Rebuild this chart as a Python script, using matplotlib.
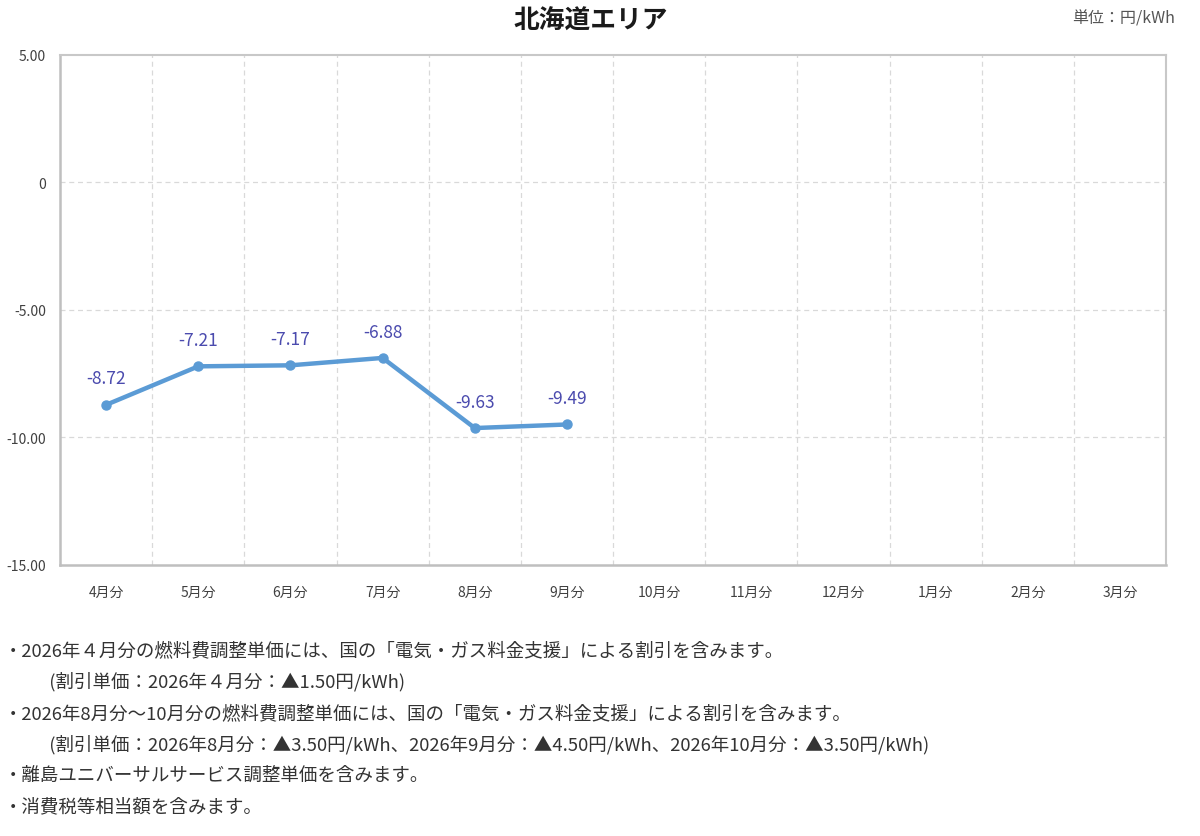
import matplotlib
matplotlib.use("Agg")
import matplotlib.pyplot as plt

plt.rcParams['font.family'] = ['Noto Sans CJK JP', 'DejaVu Sans']

months = ['4月分', '5月分', '6月分', '7月分', '8月分', '9月分',
          '10月分', '11月分', '12月分', '1月分', '2月分', '3月分']
values = [-8.72, -7.21, -7.17, -6.88, -9.63, -9.49]
yticks = [5, 0, -5, -10, -15]
ytick_labels = ['5.00', '0', '-5.00', '-10.00', '-15.00']

title = '北海道エリア'
unit = '単位：円/kWh'
notes = [
    '・2026年４月分の燃料費調整単価には、国の「電気・ガス料金支援」による割引を含みます。',
    '　　  (割引単価：2026年４月分：▲1.50円/kWh)',
    '・2026年8月分～10月分の燃料費調整単価には、国の「電気・ガス料金支援」による割引を含みます。',
    '　　  (割引単価：2026年8月分：▲3.50円/kWh、2026年9月分：▲4.50円/kWh、2026年10月分：▲3.50円/kWh)',
    '・離島ユニバーサルサービス調整単価を含みます。',
    '・消費税等相当額を含みます。',
]

fig = plt.figure(figsize=(12, 8.37), dpi=100)
ax = fig.add_axes([0.05, 0.3238, 0.9217, 0.6093])

x = list(range(len(values)))
ax.plot(x, values, color='#5B9BD5', lw=3.2, marker='o', ms=6.5, zorder=3)
for xi, v in zip(x, values):
    ax.annotate(f'{v:.2f}', (xi, v), xytext=(0, 19), textcoords='offset points',
                ha='center', va='center', fontsize=12.5, color='#4B4BAE')

ax.set_xlim(-0.5, len(months) - 0.5)
ax.set_ylim(-15, 5)
ax.set_xticks(range(len(months)))
ax.set_xticklabels(months, fontsize=10, color='#404040')
ax.set_yticks(yticks)
ax.set_yticklabels(ytick_labels, fontsize=10, color='#404040')
ax.tick_params(length=0, pad=14)
ax.tick_params(axis='y', pad=10)

# dashed grid: horizontal at ticks, vertical at category boundaries
for y in [0, -5, -10]:
    ax.axhline(y, color='#D9D9D9', lw=0.9, ls=(0, (4, 3)), zorder=1)
for b in range(1, len(months)):
    ax.axvline(b - 0.5, color='#D9D9D9', lw=0.9, ls=(0, (4, 3)), zorder=1)

for s in ['top', 'right']:
    ax.spines[s].set_color('#C8C8C8')
    ax.spines[s].set_linewidth(1.5)
for s in ['left', 'bottom']:
    ax.spines[s].set_color('#BFBFBF')
    ax.spines[s].set_linewidth(1.8)

fig.text(0.492, 0.975, title, ha='center', va='center', fontsize=18.5, fontweight='bold', color='#1a1a1a')
fig.text(0.979, 0.977, unit, ha='right', va='center', fontsize=11.5, color='#555555')

ys = [651, 682, 714, 745, 776, 807]
for t, yp in zip(notes, ys):
    fig.text(0.003, 1 - yp / 837, t, ha='left', va='center', fontsize=13.3, color='#333333')

fig.savefig('out.png', dpi=100, facecolor='white')
